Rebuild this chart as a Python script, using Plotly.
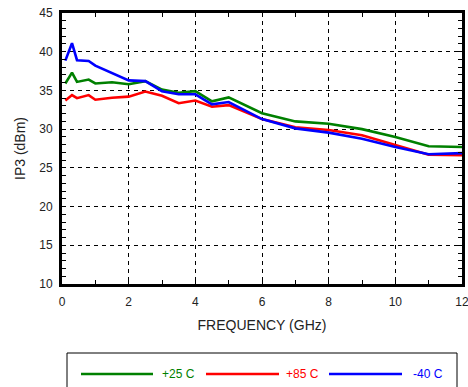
import plotly.graph_objects as go

freq = [0.1, 0.3, 0.45, 0.8, 1.0, 1.5, 2.0, 2.5, 3.0, 3.5, 4.0, 4.5, 5.0, 6.0, 7.0, 8.0, 9.0, 10.0, 11.0, 12.0]
ip3_p25 = [35.9, 37.3, 36.1, 36.4, 35.9, 36.05, 35.8, 36.2, 35.1, 34.7, 34.9, 33.6, 34.1, 32.05, 31.0, 30.7, 30.0, 29.0, 27.8, 27.7]
ip3_p85 = [33.7, 34.4, 34.0, 34.4, 33.8, 34.05, 34.2, 34.85, 34.3, 33.35, 33.7, 32.9, 33.1, 31.3, 30.25, 29.9, 29.2, 28.0, 26.7, 26.65]
ip3_m40 = [38.85, 41.1, 38.9, 38.8, 38.2, 37.25, 36.3, 36.2, 34.9, 34.5, 34.5, 33.2, 33.5, 31.3, 30.1, 29.55, 28.75, 27.7, 26.75, 26.9]

series_names = ["+25 C", "+85 C", "-40 C"]
series_colors = ["#008000", "#ff0000", "#0000ff"]
series_vals = [ip3_p25, ip3_p85, ip3_m40]

x_ticks = [0, 2, 4, 6, 8, 10, 12]
y_ticks = [10, 15, 20, 25, 30, 35, 40, 45]

W, H = 468, 387
L, R, T, B = 62, 6, 13, 103
pw, ph = W - L - R, H - T - B

def px(x):
    return (x - L) / pw

def py(y):
    return (H - B - y) / ph

fig = go.Figure()
for name, col, vals in zip(series_names, series_colors, series_vals):
    fig.add_trace(go.Scatter(x=freq, y=vals, mode="lines", name=name,
                             line=dict(color=col, width=2.6), showlegend=False))

family = "Liberation Sans, Arial, sans-serif"
tick_font = dict(family=family, size=12, color="#222222")
title_font = dict(family=family, size=14, color="#222222")

axis_common = dict(
    showline=True, linecolor="black", linewidth=3, mirror="allticks",
    ticks="inside", ticklen=4, tickcolor="black", tickwidth=1,
    showgrid=True, gridcolor="black", gridwidth=1, griddash="4px,4px",
    zeroline=False, tickfont=tick_font, automargin=False,
    ticklabeloverflow="allow",
)

fig.update_xaxes(range=[0, 12], tickvals=x_ticks, ticktext=[str(v) for v in x_ticks],
                 minor=dict(dtick=1, tick0=0, ticks="inside", ticklen=4, tickcolor="black", showgrid=False),
                 ticklabelstandoff=5,
                 title=dict(text="FREQUENCY (GHz)", font=title_font, standoff=12),
                 **axis_common)
fig.update_yaxes(range=[10, 45], tickvals=y_ticks, ticktext=[str(v) for v in y_ticks],
                 minor=dict(dtick=1, tick0=10, ticks="inside", ticklen=4, tickcolor="black", showgrid=False),
                 ticklabelstandoff=4,
                 title=dict(text="IP3 (dBm)", font=title_font, standoff=11),
                 **axis_common)

# manual legend
shapes = [dict(type="rect", xref="paper", yref="paper",
               x0=px(67), x1=px(457), y0=py(353), y1=py(400),
               line=dict(color="black", width=1), fillcolor="rgba(0,0,0,0)")]
annotations = []
leg_y = py(374)
line_x = [(81, 153), (206, 279), (329, 402)]
text_x = [178, 302, 428]
for (x0, x1), tx, name, col in zip(line_x, text_x, series_names, series_colors):
    shapes.append(dict(type="line", xref="paper", yref="paper",
                       x0=px(x0), x1=px(x1), y0=leg_y, y1=leg_y,
                       line=dict(color=col, width=2.6)))
    annotations.append(dict(xref="paper", yref="paper", x=px(tx), y=leg_y,
                            text=name, showarrow=False, xanchor="center", yanchor="middle",
                            font=dict(family=family, size=12, color=col)))

fig.update_layout(
    width=W, height=H,
    margin=dict(l=L, r=R, t=T, b=B, pad=0, autoexpand=False),
    paper_bgcolor="white", plot_bgcolor="white",
    showlegend=False, font=tick_font,
    shapes=shapes, annotations=annotations,
)

fig.write_html("out.html")
